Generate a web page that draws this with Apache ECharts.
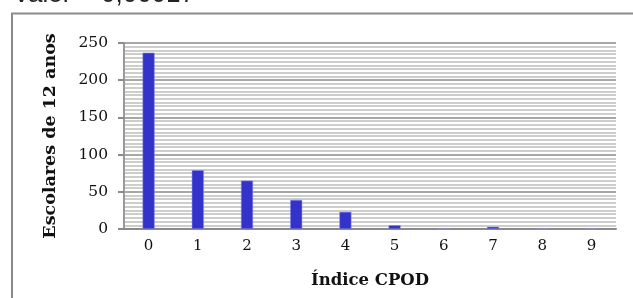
<!DOCTYPE html>
<html>
<head>
<meta charset="utf-8">
<script src="https://cdn.jsdelivr.net/npm/echarts@6/dist/echarts.min.js"></script>
<style>html,body{margin:0;padding:0;background:#fff;}#c{width:633px;height:298px;}</style>
</head>
<body>
<div id="c"></div>
<script>
const categories = ['0','1','2','3','4','5','6','7','8','9'];
const values = [237, 79, 65, 39, 23, 5, 0, 3, 0, 0];
const yTicks = [0, 50, 100, 150, 200, 250];
const xTitle = 'Índice CPOD';
const yTitle = 'Escolares de 12 anos';
const topText = 'valor = 0,00017';

const chart = echarts.init(document.getElementById('c'), null, {renderer: 'canvas'});
const serif = '"DejaVu Serif", serif';
chart.setOption({
  animation: false,
  backgroundColor: '#fff',
  grid: {left: 124, right: 17, top: 43, bottom: 69, containLabel: false},
  graphic: [
    {type: 'rect', shape: {x: 12, y: 13.5, width: 700, height: 400},
     style: {fill: 'none', stroke: '#8a8a8a', lineWidth: 2}, silent: true},
    {type: 'text', x: 15, y: -5, style: {text: topText, font: '26px "Liberation Sans", sans-serif', fill: '#222', verticalAlign: 'middle'}}
  ],
  xAxis: {
    type: 'category',
    data: categories,
    name: xTitle,
    nameLocation: 'middle',
    nameGap: 43,
    nameTextStyle: {fontFamily: serif, fontWeight: 'bold', fontSize: 16.5, color: '#111'},
    axisLine: {lineStyle: {color: '#8a8a8a', width: 2}},
    axisTick: {show: false},
    axisLabel: {fontFamily: serif, fontSize: 15, color: '#111', margin: 10}
  },
  yAxis: {
    type: 'value',
    min: yTicks[0], max: yTicks[yTicks.length - 1], interval: 50,
    name: yTitle,
    nameLocation: 'middle',
    nameGap: 65,
    nameTextStyle: {fontFamily: serif, fontWeight: 'bold', fontSize: 17.5, color: '#111'},
    axisLine: {show: true, lineStyle: {color: '#9a9a9a', width: 2}},
    axisTick: {show: true, inside: false, length: 6, lineStyle: {color: '#8a8a8a', width: 2}},
    axisLabel: {fontFamily: serif, fontSize: 15.5, color: '#111', margin: 16},
    splitLine: {show: true, lineStyle: {color: '#8a8a8a', width: 1.5}},
    minorTick: {show: false, splitNumber: 10},
    minorSplitLine: {show: true, lineStyle: {color: '#bdbdbd', width: 1.5}}
  },
  series: [{
    type: 'bar',
    data: values,
    barWidth: 12,
    itemStyle: {color: '#3333cc', borderColor: '#8b8be6', borderWidth: 0.5}
  }]
});
</script>
</body>
</html>
